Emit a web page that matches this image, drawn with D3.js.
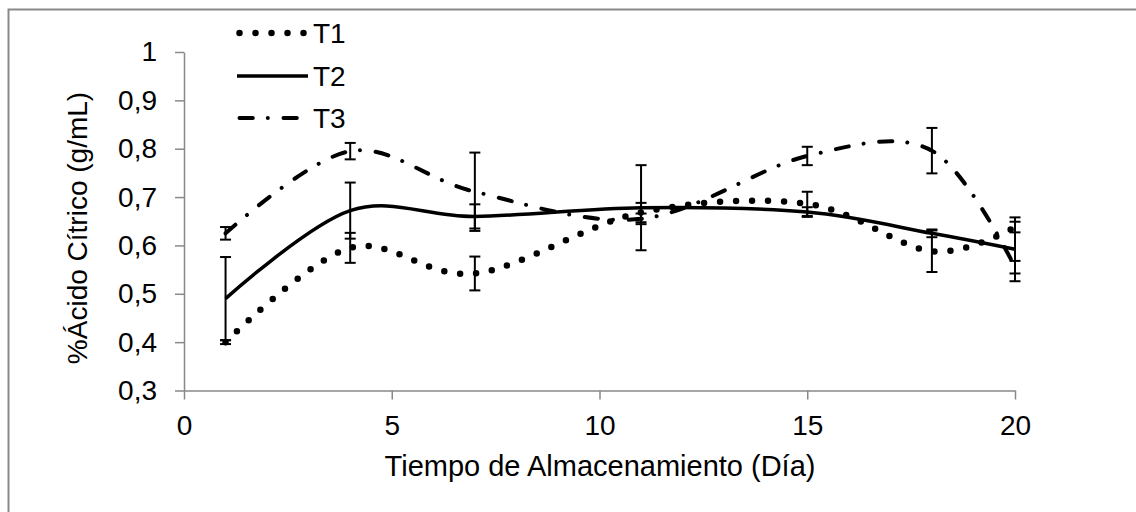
<!DOCTYPE html>
<html lang="es">
<head>
    <meta charset="UTF-8">
    <title>Ácido cítrico</title>
    <script src="https://cdnjs.cloudflare.com/ajax/libs/d3/7.8.5/d3.min.js"></script>
    <style>
        body { margin: 0; background: #fff; }
        text { font-family: "Liberation Sans", Arial, sans-serif; fill: #000; }
    </style>
</head>
<body>
    <div id="chart"></div>
    <script>
        // datos
        const dias = [1, 4, 7, 11, 15, 18, 20]
        const t1 = [0.400, 0.595, 0.542, 0.668, 0.686, 0.588, 0.638]
        const t1Err = [0.004, 0.031, 0.035, 0.020, 0.025, 0.043, 0.011]
        const t2 = [0.490, 0.672, 0.660, 0.678, 0.669, 0.625, 0.592]
        const t2Err = [0.086, 0.058, 0.025, 0.088, 0.010, 0.008, 0.066]
        const t3 = [0.625, 0.795, 0.711, 0.655, 0.785, 0.796, 0.555]
        const t3Err = [0.013, 0.017, 0.081, 0.011, 0.019, 0.047, 0.013]
        const serieNames = ['T1', 'T2', 'T3']
        const xTicks = [0, 5, 10, 15, 20]
        const yTicks = [0.3, 0.4, 0.5, 0.6, 0.7, 0.8, 0.9, 1]
        const yTickLabels = ['0,3', '0,4', '0,5', '0,6', '0,7', '0,8', '0,9', '1']

        const width = 1136,
            height = 512
        const axisColor = '#898989'

        const svg = d3.select('#chart')
            .append('svg')
            .attr('width', width)
            .attr('height', height)

        // borde del área del gráfico
        svg.append('rect')
            .attr('x', 8.5)
            .attr('y', 9.5)
            .attr('width', 1400)
            .attr('height', 800)
            .attr('fill', 'none')
            .attr('stroke', axisColor)
            .attr('stroke-width', 2)

        // escalas
        const x = d3.scaleLinear().domain([0, 20]).range([184, 1015])
        const y = d3.scaleLinear().domain([0.3, 1]).range([390.5, 52])

        // eje Y
        const yAxis = svg.append('g')
            .attr('transform', 'translate(184,0)')
            .call(d3.axisLeft(y)
                .tickValues(yTicks)
                .tickFormat((d, i) => yTickLabels[i])
                .tickSize(9)
                .tickSizeOuter(0)
                .tickPadding(18))
        // eje X
        const xAxis = svg.append('g')
            .attr('transform', 'translate(0,390.5)')
            .call(d3.axisBottom(x)
                .tickValues(xTicks)
                .tickSize(9)
                .tickSizeOuter(0)
                .tickPadding(16))

        ;[yAxis, xAxis].forEach(g => {
            g.selectAll('path, line')
                .attr('stroke', axisColor)
                .attr('stroke-width', 1.5)
            g.selectAll('text')
                .attr('font-size', 28)
                .attr('fill', '#000')
                .style('font-family', '"Liberation Sans", Arial, sans-serif')
        })

        // títulos de ejes
        svg.append('text')
            .attr('transform', 'translate(87,228) rotate(-90)')
            .attr('text-anchor', 'middle')
            .attr('font-size', 28)
            .text('%Ácido Cítrico (g/mL)')

        svg.append('text')
            .attr('x', 600)
            .attr('y', 476)
            .attr('text-anchor', 'middle')
            .attr('font-size', 29)
            .text('Tiempo de Almacenamiento (Día)')

        // estilos de línea
        const estilos = [
            { width: 6.5, dash: '0 16', cap: 'round' },
            { width: 3.5, dash: null, cap: 'butt' },
            { width: 4, dash: '13.3 15 0.01 15.7', cap: 'round' }
        ]

        const series = [
            { name: serieNames[0], values: t1, err: t1Err },
            { name: serieNames[1], values: t2, err: t2Err },
            { name: serieNames[2], values: t3, err: t3Err }
        ]

        const line = d3.line()
            .x(d => x(d[0]))
            .y(d => y(d[1]))
            .curve(d3.curveCatmullRom.alpha(0))

        series.forEach((s, i) => {
            svg.append('path')
                .datum(dias.map((d, j) => [d, s.values[j]]))
                .attr('d', line)
                .attr('fill', 'none')
                .attr('stroke', '#000')
                .attr('stroke-width', estilos[i].width)
                .attr('stroke-linecap', estilos[i].cap)
                .attr('stroke-dasharray', estilos[i].dash)
        })

        // barras de error
        series.forEach(s => {
            const g = svg.append('g').attr('stroke', '#000').attr('stroke-width', 2)
            dias.forEach((d, j) => {
                const cx = x(d)
                const hi = y(s.values[j] + s.err[j])
                const lo = y(s.values[j] - s.err[j])
                g.append('line').attr('x1', cx).attr('x2', cx).attr('y1', hi).attr('y2', lo)
                g.append('line').attr('x1', cx - 5.5).attr('x2', cx + 5.5).attr('y1', hi).attr('y2', hi)
                g.append('line').attr('x1', cx - 5.5).attr('x2', cx + 5.5).attr('y1', lo).attr('y2', lo)
            })
        })

        // leyenda
        const legendY = [33, 76, 118]
        series.forEach((s, i) => {
            svg.append('line')
                .attr('x1', i === 1 ? 237 : 239.5)
                .attr('x2', i === 1 ? 308 : 305)
                .attr('y1', legendY[i])
                .attr('y2', legendY[i])
                .attr('stroke', '#000')
                .attr('stroke-width', estilos[i].width)
                .attr('stroke-linecap', estilos[i].cap)
                .attr('stroke-dasharray', estilos[i].dash)
            svg.append('text')
                .attr('x', 313)
                .attr('y', legendY[i] + 10)
                .attr('font-size', 28)
                .text(s.name)
        })
    </script>
</body>
</html>
